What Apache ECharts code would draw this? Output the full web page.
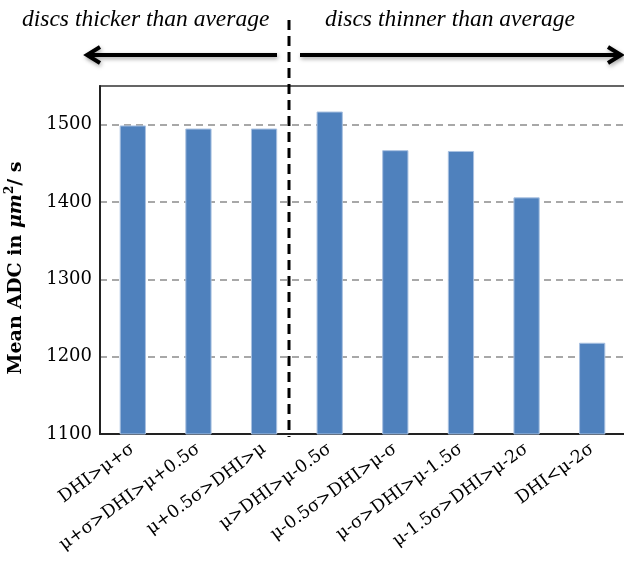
<!DOCTYPE html>
<html>
<head>
<meta charset="utf-8">
<script src="https://cdn.jsdelivr.net/npm/echarts@6/dist/echarts.min.js"></script>
<style>html,body{margin:0;padding:0;background:#fff}#c{width:624px;height:561px}</style>
</head>
<body>
<div id="c"></div>
<script>
const categories = ['DHI>μ+σ','μ+σ>DHI>μ+0.5σ','μ+0.5σ>DHI>μ','μ>DHI>μ-0.5σ','μ-0.5σ>DHI>μ-σ','μ-σ>DHI>μ-1.5σ','μ-1.5σ>DHI>μ-2σ','DHI<μ-2σ'];
const meanADC = [1499, 1495, 1495, 1517, 1467, 1466, 1406, 1218];
const yTicks = [1100, 1200, 1300, 1400, 1500];
const leftNote = 'discs thicker than average';
const rightNote = 'discs thinner than average';

const chart = echarts.init(document.getElementById('c'), null, {renderer: 'canvas'});
const serif = 'DejaVu Serif';
const arrowStyle = {stroke: '#000', lineWidth: 4, lineCap: 'butt', lineJoin: 'miter',
  shadowBlur: 4, shadowColor: 'rgba(0,0,0,0.35)', shadowOffsetX: 1, shadowOffsetY: 2};
chart.setOption({
  animation: false,
  backgroundColor: '#fff',
  grid: {left: 100, top: 86, right: -1, bottom: 127, containLabel: false, outerBoundsMode: 'none',
    show: true, borderColor: '#333', borderWidth: 1.5, backgroundColor: 'transparent'},
  xAxis: {
    type: 'category', data: categories,
    axisLine: {show: true, lineStyle: {color: '#222', width: 2}},
    axisTick: {show: false},
    axisLabel: {rotate: 36, interval: 0, margin: 13, padding: [14, 0, 0, 0], color: '#000', fontFamily: serif, fontSize: 17.5}
  },
  yAxis: {
    type: 'value', min: 1100, max: 1550, interval: 100,
    axisLine: {show: true, lineStyle: {color: '#222', width: 2}},
    axisTick: {show: false},
    axisLabel: {margin: 8, color: '#000', fontFamily: serif, fontSize: 18, showMaxLabel: false,
      formatter: v => yTicks.includes(v) ? String(v) : ''},
    splitLine: {show: true, showMaxLine: false, showMinLine: false, lineStyle: {color: '#8c8c8c', width: 1.5, type: [7, 5]}},
    name: '{b|Mean ADC in }{i|μm}{s|2}{b|/ s}',
    nameLocation: 'middle', nameRotate: 90, nameGap: 72,
    nameTextStyle: {
      padding: [0, 16, 0, 0],
      rich: {
        b: {fontFamily: serif, fontWeight: 'bold', fontSize: 19, color: '#000', lineHeight: 24},
        i: {fontFamily: serif, fontStyle: 'italic', fontWeight: 'bold', fontSize: 19, color: '#000', lineHeight: 24},
        s: {fontFamily: serif, fontWeight: 'bold', fontSize: 12, color: '#000', verticalAlign: 'top', lineHeight: 14}
      }
    }
  },
  series: [{
    type: 'bar', data: meanADC, barWidth: '40%',
    itemStyle: {color: '#4F81BD', borderColor: '#A9C1E1', borderWidth: 1}
  }],
  graphic: [
    {type: 'text', left: 22, top: 8, style: {text: leftNote, font: 'italic 23.5px "Liberation Serif"', fill: '#000'}},
    {type: 'text', left: 325, top: 8, style: {text: rightNote, font: 'italic 23.5px "Liberation Serif"', fill: '#000'}},
    {type: 'line', shape: {x1: 289, y1: 20, x2: 289, y2: 437}, z: 100,
      style: {stroke: '#000', lineWidth: 3, lineDash: [10, 6]}},
    {type: 'line', shape: {x1: 88, y1: 55, x2: 277, y2: 55}, style: arrowStyle},
    {type: 'polyline', shape: {points: [[100, 47], [87, 55], [100, 63]]}, style: Object.assign({}, arrowStyle, {fill: null})},
    {type: 'line', shape: {x1: 300, y1: 55, x2: 620, y2: 55}, style: arrowStyle},
    {type: 'polyline', shape: {points: [[608, 47], [621, 55], [608, 63]]}, style: Object.assign({}, arrowStyle, {fill: null})}
  ]
});
</script>
</body>
</html>
